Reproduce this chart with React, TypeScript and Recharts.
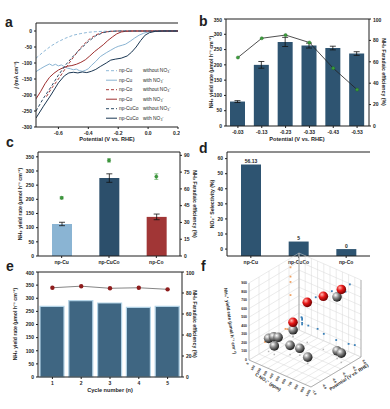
import React from 'react';
import {
  LineChart, Line, XAxis, YAxis, ComposedChart, Bar, ErrorBar, Cell, LabelList,
  ScatterChart, Scatter, ReferenceLine,
} from 'recharts';

const FONT = '"Liberation Sans", Arial, Helvetica, sans-serif';
const INK = '#1e1e1e';
const tickFont = { fontSize: 5, fontFamily: FONT, fontWeight: 700, fill: INK };

// ---------------- Panel a : LSV curves (V vs RHE, mA cm-2)
const aPotentialTicks = [-0.6, -0.4, -0.2, 0.0, 0.2];
const aCurrentTicks = [0, -50, -100, -150, -200, -250, -300];
const npCuWithout = [[-0.75,-85],[-0.7,-65],[-0.65,-47],[-0.6,-33],[-0.55,-22],[-0.5,-13],[-0.45,-8],[-0.4,-4],[-0.35,-2],[-0.3,-1],[-0.2,0],[0.2,0]];
const npCuWith = [[-0.75,-127],[-0.72,-118],[-0.69,-110],[-0.66,-103],[-0.64,-108],[-0.62,-104],[-0.6,-109],[-0.58,-106],[-0.56,-112],[-0.54,-116],[-0.52,-118],[-0.5,-121],[-0.48,-119],[-0.46,-124],[-0.44,-126],[-0.42,-123],[-0.4,-118],[-0.38,-108],[-0.35,-95],[-0.32,-80],[-0.28,-68],[-0.25,-60],[-0.22,-52],[-0.2,-48],[-0.17,-44],[-0.15,-41],[-0.12,-32],[-0.09,-22],[-0.06,-13],[-0.03,-7],[0,-3],[0.04,-1],[0.1,0],[0.2,0]];
const npCoWithout = [[-0.68,-205],[-0.65,-182],[-0.6,-150],[-0.55,-115],[-0.5,-82],[-0.45,-52],[-0.4,-28],[-0.35,-12],[-0.3,-4],[-0.25,-1],[-0.2,0],[0.2,0]];
const npCoWith = [[-0.75,-212],[-0.72,-190],[-0.69,-165],[-0.66,-145],[-0.63,-132],[-0.6,-122],[-0.57,-115],[-0.54,-110],[-0.51,-108],[-0.48,-104],[-0.45,-98],[-0.42,-90],[-0.39,-78],[-0.36,-65],[-0.33,-54],[-0.3,-43],[-0.27,-30],[-0.24,-19],[-0.21,-9],[-0.18,-3],[-0.15,-1],[-0.1,0],[0.2,0]];
const npCuCoWithout = [[-0.75,-250],[-0.7,-210],[-0.65,-175],[-0.6,-138],[-0.55,-105],[-0.5,-78],[-0.45,-55],[-0.4,-33],[-0.35,-15],[-0.3,-5],[-0.25,-1],[-0.2,0],[0.2,0]];
const npCuCoWith = [[-0.75,-272],[-0.7,-235],[-0.65,-200],[-0.6,-162],[-0.56,-140],[-0.53,-131],[-0.5,-129],[-0.47,-131],[-0.44,-128],[-0.41,-130],[-0.38,-126],[-0.35,-120],[-0.32,-111],[-0.28,-100],[-0.25,-91],[-0.22,-88],[-0.18,-85],[-0.14,-78],[-0.11,-66],[-0.08,-50],[-0.05,-30],[-0.02,-13],[0.01,-5],[0.05,-1],[0.1,0],[0.2,0]];
const toPts = (arr: number[][]) => arr.map(([v, j]) => ({ v, j }));

const aSeries = [
  { key: 'cuWo', name: 'np-Cu', cond: 'without NO₃⁻', data: npCuWithout, color: '#8fb9d8', dash: '3 2' },
  { key: 'cuW', name: 'np-Cu', cond: 'with NO₃⁻', data: npCuWith, color: '#8ab4d3', dash: undefined },
  { key: 'coWo', name: 'np-Co', cond: 'without NO₃⁻', data: npCoWithout, color: '#a83a3a', dash: '3 2' },
  { key: 'coW', name: 'np-Co', cond: 'with NO₃⁻', data: npCoWith, color: '#9e2f2f', dash: undefined },
  { key: 'cucoWo', name: 'np-CuCo', cond: 'without NO₃⁻', data: npCuCoWithout, color: '#2c4a66', dash: '3 2' },
  { key: 'cucoW', name: 'np-CuCo', cond: 'with NO₃⁻', data: npCuCoWith, color: '#1b3753', dash: undefined },
];

// ---------------- Panel b
const bPotentials = ['-0.03', '-0.13', '-0.23', '-0.33', '-0.43', '-0.53'];
const bYield = [80, 200, 275, 263, 255, 237];
const bYieldErr = [3, 11, 15, 8, 6, 6];
const bFE = [64, 82, 85, 78, 54, 34];
const bYieldTicks = [0, 50, 100, 150, 200, 250, 300, 350];
const bFETicks = [0, 10, 20, 30, 40, 50, 60, 70, 80, 90, 100];
const bData = bPotentials.map((p, i) => ({ p, y: bYield[i], e: bYieldErr[i], fe: bFE[i] }));

// ---------------- Panel c
const cCatalysts = ['np-Cu', 'np-CuCo', 'np-Co'];
const cYield = [113, 275, 138];
const cYieldErr = [6, 15, 10];
const cFE = [52, 85.5, 71];
const cFEErr = [1, 1.5, 2.5];
const cYieldTicks = [0, 50, 100, 150, 200, 250, 300, 350];
const cFETicks = [0, 15, 30, 45, 60, 75, 90];
const cColors = ['#8ab4d3', '#2c4f6b', '#a13636'];
const cData = cCatalysts.map((c, i) => ({ c, y: cYield[i], e: cYieldErr[i], fe: cFE[i], fee: cFEErr[i] }));

// ---------------- Panel d
const dCatalysts = ['np-Cu', 'np-CuCo', 'np-Co'];
const dSelectivity = [56.13, 5, 0];
const dTicks = [0, 10, 20, 30, 40, 50, 60];
const dDomain = [-4.6, 64.4];
const dData = dCatalysts.map((c, i) => ({ c, s: dSelectivity[i] }));

// ---------------- Panel e
const eCycles = ['1', '2', '3', '4', '5'];
const eYield = [269, 291, 282, 265, 269];
const eFE = [85, 86.5, 84.5, 85, 83.5];
const eYieldTicks = [0, 50, 100, 150, 200, 250, 300, 350, 400];
const eFETicks = [0, 20, 40, 60, 80, 100];
const eData = eCycles.map((n, i) => ({ n, y: eYield[i], fe: eFE[i] }));

// ---------------- Panel f (3D: NO3- conc ppm, potential V, NH4+ yield)
const fConcTicks = [0, 100, 200, 300, 400, 500, 600, 700, 800, 900, 1000];
const fPotTicks = [-1.0, -0.8, -0.6, -0.4, -0.2, 0.0];
const fYieldTicks = [0, 100, 200, 300, 400, 500, 600, 700, 800, 900];
const fCuCoConc = [40, 270, 530, 820];
const fCuCoPot = [-0.17, -0.17, -0.17, -0.17];
const fCuCoYield = [162, 468, 621, 792];
const fRefConc = [50, 50, 50, 150, 300, 400, 50, 600, 800, 900, 750];
const fRefPot = [-0.67, -0.57, -0.48, -0.68, -0.55, -0.48, -0.18, -0.57, -0.23, -0.27, -0.17];
const fRefYield = [153, 135, 99, 99, 108, 81, 81, 72, 90, 108, 684];

const FP = { ox: 249, oy: 360, ux: 62, uy: 27, vx: 50, vy: -30, wy: -77 };
const proj = (c: number, p: number, y: number) => {
  const u = c / 1000, v = p + 1, w = y / 900;
  return { x: FP.ox + FP.ux * u + FP.vx * v, y: FP.oy + FP.uy * u + FP.vy * v + FP.wy * w };
};
const cuco3d = fCuCoConc.map((c, i) => ({ c, p: fCuCoPot[i], y: fCuCoYield[i] }));
const ref3d = fRefConc.map((c, i) => ({ c, p: fRefPot[i], y: fRefYield[i] }));
const all3d = [...ref3d, ...cuco3d];
const sphereRef = ref3d.map((d) => proj(d.c, d.p, d.y));
const sphereCuCo = cuco3d.map((d) => proj(d.c, d.p, d.y));
const wallLeftPts = all3d.map((d) => proj(0, d.p, d.y));
const wallRightPts = all3d.map((d) => proj(d.c, 0, d.y));
const floorPts = all3d.map((d) => proj(d.c, d.p, 0));

const seg = (a: any, b: any) => [proj(a[0], a[1], a[2]), proj(b[0], b[1], b[2])];
const gridSegs: any[] = [];
fPotTicks.forEach((p) => { gridSegs.push(seg([0, p, 0], [0, p, 900])); gridSegs.push(seg([0, p, 0], [1000, p, 0])); });
fConcTicks.forEach((c) => { gridSegs.push(seg([c, 0, 0], [c, 0, 900])); gridSegs.push(seg([c, -1, 0], [c, 0, 0])); });
fYieldTicks.forEach((y) => { gridSegs.push(seg([0, -1, y], [0, 0, y])); gridSegs.push(seg([0, 0, y], [1000, 0, y])); });
const edgeSegs = [
  seg([0, -1, 0], [0, -1, 900]), seg([0, -1, 0], [1000, -1, 0]), seg([1000, -1, 0], [1000, 0, 0]),
  seg([1000, 0, 0], [1000, 0, 900]), seg([0, 0, 0], [0, 0, 900]),
];

const Sphere = (kind: string) => (props: any) => {
  const { cx, cy, index } = props;
  const id = `${kind}${index}`;
  const stops = kind === 'red'
    ? ['#ffb8b0', '#e81818', '#700000']
    : ['#ffffff', '#8a8a8a', '#1c1c1c'];
  return (
    <g>
      <defs>
        <radialGradient id={id} cx="35%" cy="32%" r="70%">
          <stop offset="0%" stopColor={stops[0]} />
          <stop offset="45%" stopColor={stops[1]} />
          <stop offset="100%" stopColor={stops[2]} />
        </radialGradient>
      </defs>
      <circle cx={cx} cy={cy} r={4.8} fill={`url(#${id})`} />
    </g>
  );
};
const Dot = (color: string, s: number) => (props: any) => (
  <rect x={props.cx - s / 2} y={props.cy - s / 2} width={s} height={s} fill={color} />
);

const greenDot = (props: any) => (
  <circle key={`g${props.index}`} cx={props.cx} cy={props.cy} r={1.6} fill="#3c9d3c" stroke="#1f6a1f" strokeWidth={0.4} />
);
const redDot = (props: any) => (
  <circle key={`r${props.index}`} cx={props.cx} cy={props.cy} r={2.2} fill="#8e1c1c" />
);

const T = ({ x, y, rot = 0, size = 5.2, anchor = 'middle', weight = 700, children, style }: any) => (
  <text x={x} y={y} fontSize={size} fontFamily={FONT} fontWeight={weight} fill={INK}
    textAnchor={anchor} dominantBaseline="central"
    transform={rot ? `rotate(${rot} ${x} ${y})` : undefined} style={style}>{children}</text>
);

const Overlay = () => {
  const yieldTitle = 'NH₃ yield rate (μmol h⁻¹ cm⁻²)';
  const feTitle = 'NH₃ Faradaic efficiency (%)';
  return (
    <svg width={390} height={409} style={{ position: 'absolute', left: 0, top: 0, pointerEvents: 'none' }}>
      {[['a', 5, 22], ['b', 199, 21], ['c', 6, 142], ['d', 199, 148], ['e', 6, 266], ['f', 201, 266]].map(([l, x, y]: any) => (
        <T key={l} x={x} y={y} size={14} anchor="start">{l}</T>
      ))}
      {/* a */}
      <T x={16} y={75} rot={-90}><tspan fontStyle="italic">j</tspan> (mA cm⁻²)</T>
      <T x={107} y={139} size={5.6}>Potential (V vs. RHE)</T>
      {aSeries.map((s, i) => {
        const y = 70.7 + i * 9.5;
        return (
          <g key={s.key}>
            <line x1={106} x2={117} y1={y} y2={y} stroke={s.color} strokeWidth={1} strokeDasharray={s.dash} />
            <T x={119} y={y} size={4.9} anchor="start" weight={400}>{s.name}</T>
            <T x={143} y={y} size={4.9} anchor="start" weight={400}>{s.cond}</T>
          </g>
        );
      })}
      {/* b */}
      <T x={211} y={72} rot={-90}>{yieldTitle}</T>
      <T x={384} y={72} rot={90}>{feTitle}</T>
      <T x={297} y={139} size={5.6}>Potential (V vs. RHE)</T>
      {/* c */}
      <T x={20} y={204} rot={-90}>{yieldTitle}</T>
      <T x={195} y={204} rot={90}>{feTitle}</T>
      {/* d */}
      <T x={212} y={204} rot={-90}>NO₂⁻ Selectivity (%)</T>
      {/* e */}
      <T x={15} y={324} rot={-90}>{yieldTitle}</T>
      <T x={195} y={324} rot={90}>{feTitle}</T>
      <T x={110} y={390} size={5.6}>Cycle number (n)</T>
      {/* f */}
      {fYieldTicks.map((t) => { const p = proj(0, -1, t); return <T key={`fy${t}`} x={p.x - 2} y={p.y} size={3.4} anchor="end">{t}</T>; })}
      {fConcTicks.map((t) => { const p = proj(t, -1, 0); return <T key={`fc${t}`} x={p.x - 1} y={p.y + 3} size={3.2} anchor="end" rot={-60}>{t}</T>; })}
      {fPotTicks.map((t) => { const p = proj(1000, t, 0); return <T key={`fp${t}`} x={p.x + 2} y={p.y + 3} size={3.2} anchor="start" rot={60}>{t.toFixed(1)}</T>; })}
      <T x={230} y={321} rot={82} size={4.6}>NH₄⁺ yield rate (μmol h⁻¹ cm⁻²)</T>
      <T x={268} y={382} rot={33} size={4.6}>C NO₃⁻ (ppm)</T>
      <T x={349} y={377} rot={-33} size={4.6}>Potential (V vs. RHE)</T>
    </svg>
  );
};

export default function App() {
  return (
    <div style={{ position: 'absolute', left: 0, top: 0, width: 390, height: 409, background: '#fff', overflow: 'hidden', fontFamily: FONT }}>
      {/* ---------- a ---------- */}
      <div style={{ position: 'absolute', left: 6, top: 21 }}>
        <LineChart width={174} height={118} margin={{ top: 2, right: 2, bottom: 0, left: 0 }}>
          <XAxis type="number" dataKey="v" domain={[-0.75, 0.2]} ticks={aPotentialTicks} allowDataOverflow
            tickFormatter={(v: number) => v.toFixed(1)} height={12} tick={tickFont} tickSize={2} stroke={INK} />
          <YAxis type="number" dataKey="j" domain={[-300, 25]} ticks={aCurrentTicks} allowDataOverflow
            width={30} tick={tickFont} tickSize={2} stroke={INK} />
          <YAxis yAxisId="r" type="number" orientation="right" domain={[-300, 25]} width={0} tick={false} tickLine={false} stroke={INK} />
          <ReferenceLine y={25} stroke={INK} />
          {aSeries.map((s) => (
            <Line key={s.key} data={toPts(s.data)} dataKey="j" type="linear" stroke={s.color} strokeWidth={1}
              strokeDasharray={s.dash} dot={false} isAnimationActive={false} />
          ))}
        </LineChart>
      </div>

      {/* ---------- b ---------- */}
      <div style={{ position: 'absolute', left: 202, top: 17 }}>
        <ComposedChart width={181} height={121} data={bData} margin={{ top: 2, right: 0, bottom: 0, left: 0 }}>
          <XAxis dataKey="p" height={12} tick={tickFont} tickSize={2} stroke={INK} />
          <YAxis yAxisId="l" domain={[0, 350]} ticks={bYieldTicks} width={24} tick={tickFont} tickSize={2} stroke={INK} />
          <YAxis yAxisId="r" orientation="right" domain={[0, 100]} ticks={bFETicks} width={14} tick={tickFont} tickSize={2} stroke={INK} />
          <ReferenceLine yAxisId="l" y={350} stroke={INK} />
          <Bar yAxisId="l" dataKey="y" fill="#2e5471" barSize={15} isAnimationActive={false}>
            <ErrorBar dataKey="e" width={3} stroke="#111" strokeWidth={0.8} direction="y" />
          </Bar>
          <Line yAxisId="r" dataKey="fe" stroke="#222" strokeWidth={0.8} dot={greenDot} isAnimationActive={false} />
        </ComposedChart>
      </div>

      {/* ---------- c ---------- */}
      <div style={{ position: 'absolute', left: 14, top: 150 }}>
        <ComposedChart width={180} height={118} data={cData} margin={{ top: 2, right: 0, bottom: 0, left: 0 }}>
          <XAxis dataKey="c" height={12} tick={tickFont} tickSize={2} stroke={INK} />
          <YAxis yAxisId="l" domain={[0, 367]} ticks={cYieldTicks} width={24} tick={tickFont} tickSize={2} stroke={INK} allowDataOverflow />
          <YAxis yAxisId="r" orientation="right" domain={[0, 93]} ticks={cFETicks} width={14} tick={tickFont} tickSize={2} stroke={INK} allowDataOverflow />
          <ReferenceLine yAxisId="l" y={367} stroke={INK} />
          <Bar yAxisId="l" dataKey="y" barSize={20} isAnimationActive={false}>
            {cData.map((d, i) => <Cell key={d.c} fill={cColors[i]} />)}
            <ErrorBar dataKey="e" width={3} stroke="#111" strokeWidth={0.8} direction="y" />
          </Bar>
          <Line yAxisId="r" dataKey="fe" stroke="none" dot={greenDot} isAnimationActive={false}>
            <ErrorBar dataKey="fee" width={2} stroke="#3c9d3c" strokeWidth={0.6} direction="y" />
          </Line>
        </ComposedChart>
      </div>

      {/* ---------- d ---------- */}
      <div style={{ position: 'absolute', left: 203, top: 150 }}>
        <ComposedChart width={168} height={118} data={dData} margin={{ top: 2, right: 1, bottom: 0, left: 0 }}>
          <XAxis dataKey="c" height={12} tick={tickFont} tickSize={2} stroke={INK} />
          <YAxis domain={dDomain} ticks={dTicks} width={24} tick={tickFont} tickSize={2} stroke={INK} allowDataOverflow />
          <YAxis yAxisId="r" orientation="right" domain={dDomain} width={0} tick={false} tickLine={false} stroke={INK} allowDataOverflow />
          <ReferenceLine y={dDomain[1]} stroke={INK} />
          <Bar dataKey={(d: any) => [dDomain[0], d.s]} fill="#2e5471" barSize={20} isAnimationActive={false}>
            <LabelList dataKey="s" position="top" offset={1.5} style={{ fontSize: 5, fontFamily: FONT, fontWeight: 700, fill: INK }} />
          </Bar>
        </ComposedChart>
      </div>

      {/* ---------- e ---------- */}
      <div style={{ position: 'absolute', left: 14, top: 270 }}>
        <ComposedChart width={182} height={119} data={eData} margin={{ top: 2, right: 0, bottom: 0, left: 0 }}>
          <XAxis dataKey="n" height={12} tick={tickFont} tickSize={2} stroke={INK} />
          <YAxis yAxisId="l" domain={[0, 400]} ticks={eYieldTicks} width={24} tick={tickFont} tickSize={2} stroke={INK} />
          <YAxis yAxisId="r" orientation="right" domain={[0, 100]} ticks={eFETicks} width={14} tick={tickFont} tickSize={2} stroke={INK} />
          <ReferenceLine yAxisId="l" y={400} stroke={INK} />
          <Bar yAxisId="l" dataKey="y" fill="#3f6682" stroke="#b3d3e6" strokeWidth={1.2} barSize={24} isAnimationActive={false} />
          <Line yAxisId="r" dataKey="fe" stroke="#666" strokeWidth={0.8} dot={redDot} isAnimationActive={false} />
        </ComposedChart>
      </div>

      {/* ---------- f ---------- */}
      <div style={{ position: 'absolute', left: 195, top: 245 }}>
        <ScatterChart width={195} height={164} margin={{ top: 0, right: 0, bottom: 0, left: 0 }}>
          <XAxis type="number" dataKey="x" domain={[195, 390]} hide allowDataOverflow />
          <YAxis type="number" dataKey="y" domain={[245, 409]} reversed hide allowDataOverflow />
          {gridSegs.map((s, i) => (
            <ReferenceLine key={`g${i}`} segment={s} stroke="#d6d6d6" strokeWidth={0.5} ifOverflow="visible" />
          ))}
          {edgeSegs.map((s, i) => (
            <ReferenceLine key={`e${i}`} segment={s} stroke="#8a8a8a" strokeWidth={0.6} ifOverflow="visible" />
          ))}
          <Scatter data={floorPts} shape={Dot('#b8b8b8', 1.5)} isAnimationActive={false} />
          <Scatter data={wallLeftPts} shape={Dot('#f0a060', 1.8)} isAnimationActive={false} />
          <Scatter data={wallRightPts} shape={Dot('#3b80b8', 1.8)} isAnimationActive={false} />
          <Scatter data={sphereRef} shape={Sphere('gray')} isAnimationActive={false} />
          <Scatter data={sphereCuCo} shape={Sphere('red')} isAnimationActive={false} />
        </ScatterChart>
      </div>

      <Overlay />
    </div>
  );
}
